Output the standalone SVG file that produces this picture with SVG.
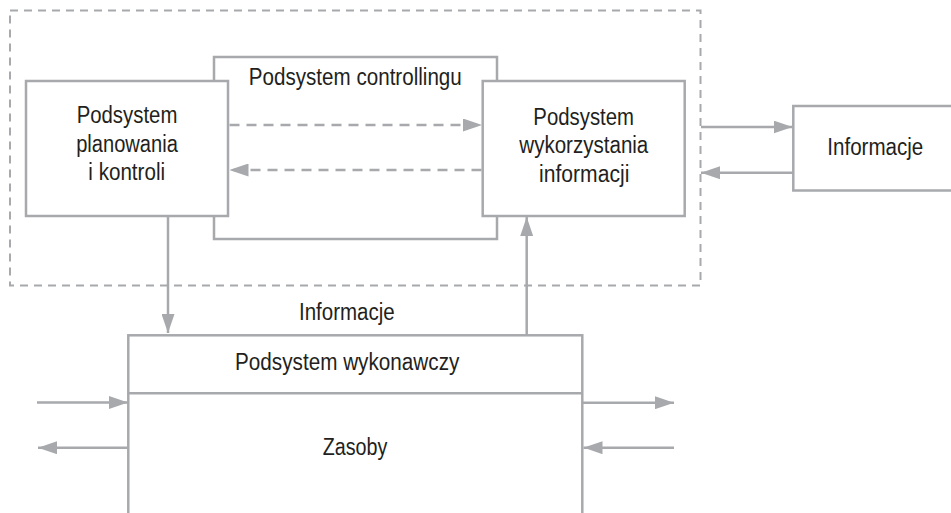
<svg xmlns="http://www.w3.org/2000/svg" width="951" height="513" viewBox="0 0 951 513">
  <style>
    .box { fill: #ffffff; stroke: #a7a9ac; stroke-width: 2.5; }
    .frame { fill: none; stroke: #a7a9ac; stroke-width: 2; stroke-dasharray: 8 6; }
    .line { fill: none; stroke: #a7a9ac; stroke-width: 2.5; }
    .flow { fill: none; stroke: #a7a9ac; stroke-width: 2.5; marker-end: url(#head); }
    .dflow { fill: none; stroke: #a7a9ac; stroke-width: 2.5; stroke-dasharray: 10 7; marker-end: url(#head); }
    text { font-family: "Liberation Sans", Arial, sans-serif; font-size: 23px; fill: #231f20; text-anchor: middle; }
  </style>
  <defs>
    <marker id="head" markerUnits="userSpaceOnUse" markerWidth="19" markerHeight="13" refX="19" refY="6.5" orient="auto">
      <path d="M0,0 L19,6.5 L0,13 Z" fill="#a7a9ac"/>
    </marker>
  </defs>

  <rect width="951" height="513" fill="#ffffff"/>

  <!-- dashed boundary of the controlling area -->
  <rect id="controlling-area" class="frame" x="10" y="10.5" width="690.5" height="275"/>

  <!-- controlling subsystem (behind the two inner boxes) -->
  <g id="controlling">
    <rect class="box" x="214" y="57" width="283" height="182"/>
    <text x="355.3" y="85" textLength="213" lengthAdjust="spacingAndGlyphs">Podsystem controllingu</text>
  </g>

  <g id="planning">
    <rect class="box" x="26" y="81" width="202" height="135"/>
    <text x="127" y="122.7" textLength="100.7" lengthAdjust="spacingAndGlyphs">Podsystem</text>
    <text x="127" y="151.7" textLength="101.7" lengthAdjust="spacingAndGlyphs">planowania</text>
    <text x="126.7" y="180" textLength="76.7" lengthAdjust="spacingAndGlyphs">i kontroli</text>
  </g>

  <g id="usage">
    <rect class="box" x="482.7" y="81" width="202" height="135"/>
    <text x="583.7" y="125" textLength="100.7" lengthAdjust="spacingAndGlyphs">Podsystem</text>
    <text x="583.8" y="153.3" textLength="129" lengthAdjust="spacingAndGlyphs">wykorzystania</text>
    <text x="584.2" y="181.7" textLength="90.3" lengthAdjust="spacingAndGlyphs">informacji</text>
  </g>

  <g id="information">
    <rect class="box" x="793.3" y="106" width="165" height="84.5"/>
    <text x="875.3" y="155" textLength="96" lengthAdjust="spacingAndGlyphs">Informacje</text>
  </g>

  <g id="execution">
    <rect class="box" x="128.3" y="335.3" width="454" height="200"/>
    <line class="line" x1="128.3" y1="393.3" x2="582.3" y2="393.3"/>
    <text x="347.2" y="370.3" textLength="224.3" lengthAdjust="spacingAndGlyphs">Podsystem wykonawczy</text>
    <text x="355" y="455" textLength="64.7" lengthAdjust="spacingAndGlyphs">Zasoby</text>
  </g>

  <text id="information-label" x="346.8" y="320" textLength="95.7" lengthAdjust="spacingAndGlyphs">Informacje</text>

  <g id="connectors">
    <!-- between planning and usage -->
    <line class="dflow" x1="229.5" y1="125" x2="482" y2="125"/>
    <line class="dflow" x1="481.5" y1="170" x2="229.5" y2="170"/>
    <!-- exchange with information -->
    <line class="flow" x1="701" y1="127" x2="792.5" y2="127"/>
    <line class="flow" x1="793" y1="172.7" x2="701" y2="172.7"/>
    <!-- vertical links with execution -->
    <line class="flow" x1="168" y1="216" x2="168" y2="333"/>
    <line class="flow" x1="526.7" y1="335" x2="526.7" y2="217"/>
    <!-- resource flows -->
    <line class="flow" x1="37" y1="402.5" x2="128" y2="402.5"/>
    <line class="flow" x1="128" y1="447.7" x2="38" y2="447.7"/>
    <line class="flow" x1="582.3" y1="402.7" x2="674" y2="402.7"/>
    <line class="flow" x1="674" y1="447.7" x2="583.5" y2="447.7"/>
  </g>
</svg>
